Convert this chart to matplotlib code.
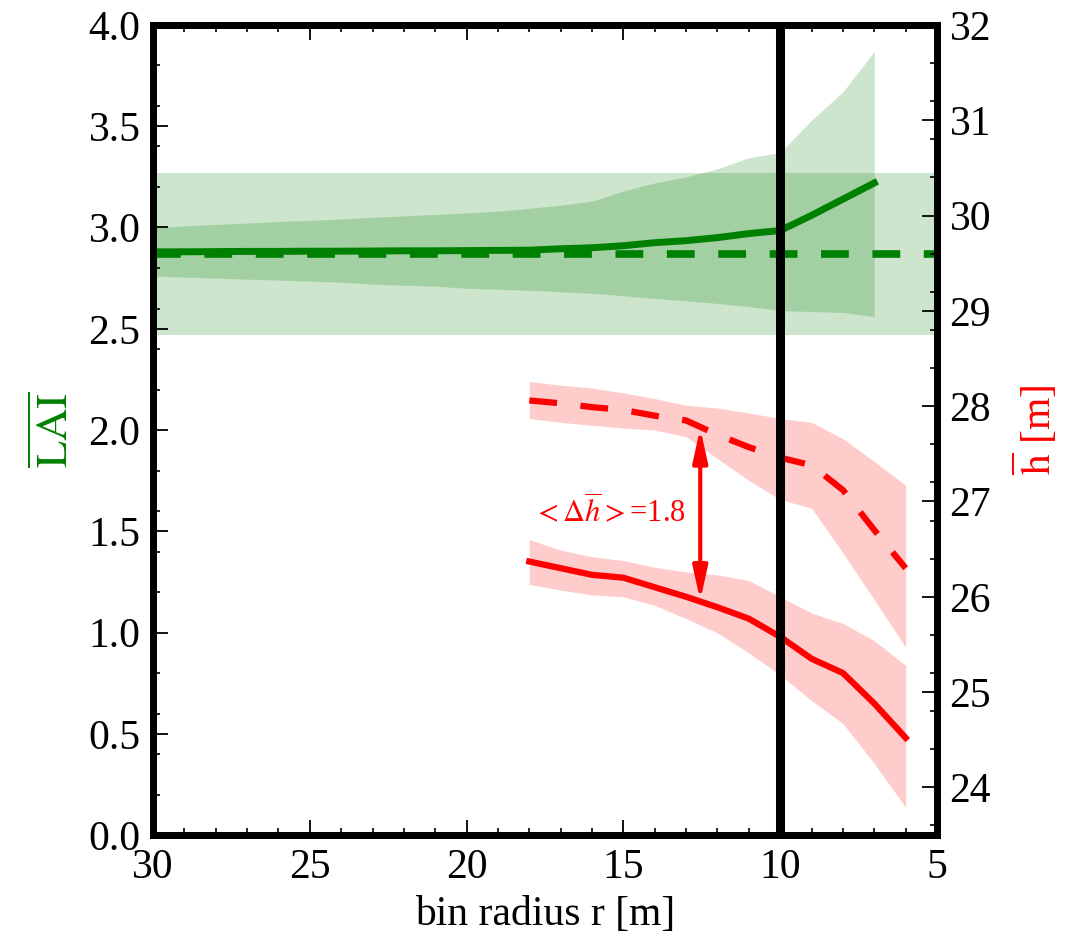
import numpy as np
import matplotlib
matplotlib.use('Agg')
from matplotlib import pyplot as plt
from matplotlib.ticker import MultipleLocator

plt.rcParams['font.family'] = ['Liberation Serif', 'DejaVu Serif']
plt.rcParams['mathtext.fontset'] = 'stix'
plt.rcParams['lines.scale_dashes'] = False

# LAI vs bin radius (left axis)
r_lai = [30, 29, 28, 27, 26, 25, 24, 23, 22, 21, 20, 19, 18, 17, 16, 15, 14, 13, 12, 11, 10, 9, 8, 7]
lai_mean = [2.88, 2.88, 2.881, 2.882, 2.882, 2.883, 2.883, 2.884, 2.885, 2.885, 2.886, 2.887,
            2.888, 2.895, 2.90, 2.91, 2.925, 2.935, 2.95, 2.97, 2.985, 3.06, 3.14, 3.22]
lai_hi = [3.00, 3.008, 3.015, 3.022, 3.03, 3.035, 3.042, 3.05, 3.057, 3.065, 3.072, 3.08,
          3.095, 3.11, 3.13, 3.18, 3.22, 3.25, 3.29, 3.345, 3.37, 3.53, 3.67, 3.87]
lai_lo = [2.76, 2.755, 2.75, 2.745, 2.74, 2.735, 2.73, 2.72, 2.715, 2.71, 2.70, 2.695,
          2.69, 2.683, 2.675, 2.663, 2.65, 2.638, 2.625, 2.61, 2.59, 2.585, 2.58, 2.56]
lai_all = 2.87
lai_all_sd = 0.40

# canopy height vs bin radius (right axis)
r_h = [18, 17, 16, 15, 14, 13, 12, 11, 10, 9, 8, 7, 6]
h_mean = [26.37, 26.30, 26.23, 26.20, 26.10, 26.00, 25.89, 25.77, 25.58, 25.35, 25.20, 24.88, 24.52]
h_hi = [26.60, 26.49, 26.42, 26.38, 26.31, 26.26, 26.23, 26.17, 26.00, 25.83, 25.72, 25.54, 25.28]
h_lo = [26.13, 26.07, 26.02, 26.00, 25.91, 25.77, 25.62, 25.41, 25.18, 24.91, 24.67, 24.25, 23.79]
h_ref = [28.06, 28.03, 27.99, 27.96, 27.90, 27.85, 27.70, 27.57, 27.46, 27.38, 27.12, 26.70, 26.30]
h_ref_hi = [28.26, 28.22, 28.19, 28.14, 28.08, 28.01, 27.98, 27.93, 27.87, 27.83, 27.66, 27.42, 27.17]
h_ref_lo = [27.87, 27.83, 27.80, 27.77, 27.75, 27.68, 27.45, 27.22, 27.02, 26.93, 26.46, 25.97, 25.47]

r_cut = 10
dh_x = 12.55
dh_label = r'$<\Delta\overline{h}>$=1.8'

fig = plt.figure(figsize=(10.66, 9.43), dpi=100)
ax = fig.add_axes([0.1435, 0.1145, 0.7355, 0.859])
ax2 = ax.twinx()

dash = (0, (20, 17))

# left axis: LAI
ax.fill_between([30, 5], lai_all - lai_all_sd, lai_all + lai_all_sd, color='green', alpha=0.2, lw=0)
ax.fill_between(r_lai, lai_lo, lai_hi, color='green', alpha=0.2, lw=0)
ax.plot([30, 5], [lai_all, lai_all], color='green', lw=5.5, linestyle=dash)
ax.plot(r_lai, lai_mean, color='green', lw=5)

# right axis: h
ax2.fill_between(r_h, h_ref_lo, h_ref_hi, color='red', alpha=0.2, lw=0)
ax2.fill_between(r_h, h_lo, h_hi, color='red', alpha=0.2, lw=0)
ax2.plot(r_h, h_ref, color='red', lw=4.5, linestyle=dash)
ax2.plot(r_h, h_mean, color='red', lw=4.5)
ax2.axvline(r_cut, color='black', lw=6.5, zorder=10)

ax2.annotate('', xy=(dh_x, 27.77), xytext=(dh_x, 25.96),
             arrowprops=dict(arrowstyle='<|-|>,head_length=1.0,head_width=0.22',
                             color='red', lw=3, mutation_scale=20,
                             shrinkA=0, shrinkB=0))
ax2.text(15.45, 26.89, dh_label, color='red', fontsize=22, ha='center', va='center')

ax.set_xlim(30, 5)
ax.set_ylim(0, 4)
ax2.set_ylim(23.5, 32)

ax.xaxis.set_major_locator(MultipleLocator(5))
ax.xaxis.set_minor_locator(MultipleLocator(1))
ax.yaxis.set_major_locator(MultipleLocator(0.5))
ax.yaxis.set_minor_locator(MultipleLocator(0.2))
ax2.yaxis.set_major_locator(MultipleLocator(1))
ax2.yaxis.set_minor_locator(MultipleLocator(0.4))

ax.tick_params(axis='x', which='both', direction='in', top=True, bottom=True, pad=10, labelsize=30)
ax.tick_params(axis='y', which='both', direction='in', left=True, right=False, pad=9, labelsize=30)
ax2.tick_params(axis='y', which='both', direction='in', right=True, left=False, pad=9, labelsize=30)
for a in (ax, ax2):
    a.tick_params(which='major', length=11, width=1.3)
    a.tick_params(which='minor', length=5, width=1.2)
    for s in a.spines.values():
        s.set_linewidth(5)

ax.set_xlabel('bin radius r [m]', fontsize=30, labelpad=6)
ax.set_ylabel(r'$\overline{\mathrm{LAI}}$', fontsize=32, color='green', labelpad=8)
ax2.set_ylabel(r'$\overline{\mathrm{h}}$ [m]', fontsize=30, color='red', labelpad=14)

fig.savefig('out.png', dpi=100)
